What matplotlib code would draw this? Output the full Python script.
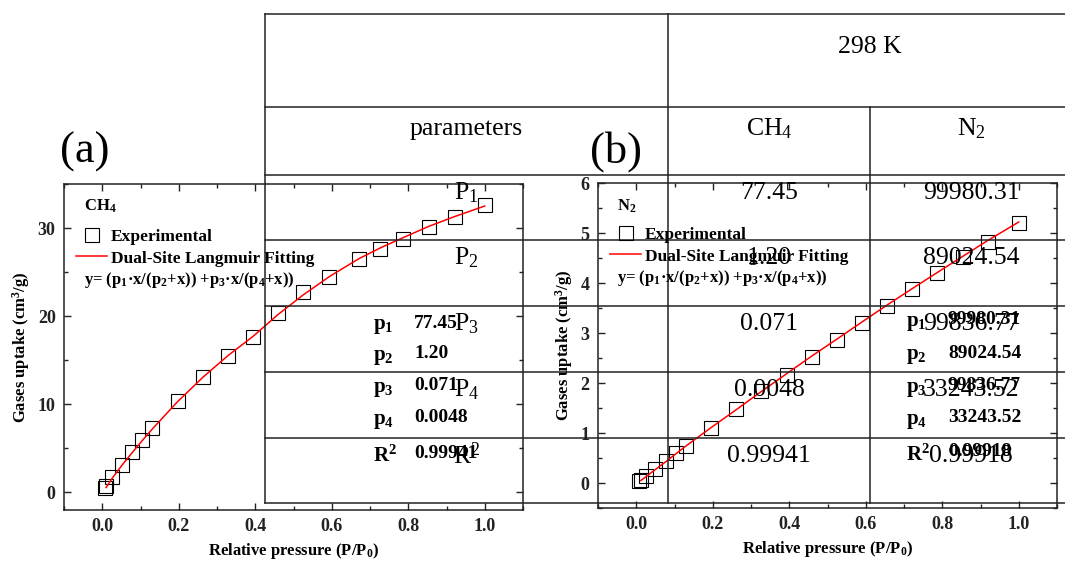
import matplotlib
matplotlib.use("Agg")
import matplotlib.pyplot as plt
from matplotlib.lines import Line2D
from matplotlib.ticker import MultipleLocator

plt.rcParams["font.family"] = ["Liberation Serif", "DejaVu Serif"]
plt.rcParams["mathtext.fontset"] = "custom"
plt.rcParams["mathtext.rm"] = "Liberation Serif"
plt.rcParams["mathtext.it"] = "Liberation Serif:italic"
plt.rcParams["mathtext.bf"] = "Liberation Serif:bold"

# ---- isotherm data (298 K) ----
ch4_x = [0.006, 0.010, 0.026, 0.051, 0.079, 0.105, 0.131, 0.197, 0.264, 0.328, 0.394,
         0.460, 0.525, 0.594, 0.670, 0.727, 0.786, 0.854, 0.921, 1.000]
ch4_y = [0.45, 0.70, 1.70, 3.10, 4.61, 5.94, 7.27, 10.34, 13.07, 15.49, 17.68,
         20.41, 22.76, 24.43, 26.48, 27.65, 28.78, 30.11, 31.28, 32.57]
ch4_fit_x = [0.010, 0.026, 0.051, 0.079, 0.105, 0.131, 0.197, 0.264, 0.328, 0.394,
             0.460, 0.525, 0.594, 0.670, 0.727, 0.786, 0.854, 0.921, 1.000]
ch4_fit_y = [0.55, 1.60, 3.05, 4.55, 5.90, 7.20, 10.30, 13.10, 15.50, 17.70,
             20.20, 22.40, 24.50, 26.50, 27.75, 28.90, 30.20, 31.30, 32.50]

n2_x = [0.007, 0.012, 0.026, 0.050, 0.078, 0.103, 0.130, 0.196, 0.262, 0.327, 0.394,
        0.459, 0.525, 0.590, 0.656, 0.722, 0.787, 0.853, 0.919, 1.000]
n2_y = [0.05, 0.07, 0.15, 0.29, 0.44, 0.60, 0.74, 1.11, 1.48, 1.85, 2.17,
        2.52, 2.87, 3.21, 3.54, 3.88, 4.20, 4.52, 4.83, 5.21]
n2_fit_x = [0.012, 0.026, 0.050, 0.078, 0.103, 0.130, 0.196, 0.262, 0.327, 0.394,
            0.459, 0.525, 0.590, 0.656, 0.722, 0.787, 0.853, 0.919, 1.000]
n2_fit_y = [0.05, 0.13, 0.27, 0.43, 0.58, 0.74, 1.11, 1.47, 1.83, 2.19,
            2.54, 2.88, 3.22, 3.56, 3.89, 4.21, 4.53, 4.85, 5.22]

# ---- fitted Dual-Site Langmuir parameters ----
param_names = [r"$\mathrm{P_1}$", r"$\mathrm{P_2}$", r"$\mathrm{P_3}$", r"$\mathrm{P_4}$", r"$\mathrm{R^2}$"]
param_labels_bold = [r"$\mathbf{p_1}$", r"$\mathbf{p_2}$", r"$\mathbf{p_3}$", r"$\mathbf{p_4}$", r"$\mathbf{R^2}$"]
ch4_params = ["77.45", "1.20", "0.071", "0.0048", "0.99941"]
n2_params = ["99980.31", "89024.54", "99836.77", "33243.52", "0.99918"]
table_title = "298 K"
table_heads = ["parameters", r"$\mathrm{CH_4}$", r"$\mathrm{N_2}$"]

W, H = 1065, 561
fig = plt.figure(figsize=(W / 100, H / 100), dpi=100)
fig.patch.set_facecolor("white")


def fx(px):
    return px / W


def fy(py):
    return 1 - py / H


def make_axes(left, top, right, bottom):
    ax = fig.add_axes([fx(left), fy(bottom), fx(right - left), (bottom - top) / H])
    ax.patch.set_alpha(0)
    for s in ax.spines.values():
        s.set_linewidth(1.1)
        s.set_color("#222222")
    ax.tick_params(which="both", direction="in", top=True, right=True, width=1.0,
                   colors="#222222", labelsize=13, pad=6)
    ax.tick_params(which="major", length=5)
    ax.tick_params(which="minor", length=3)
    return ax


def draw_panel(ax, x, y, fx_, fy_, xlim, ylim, major_y, minor_y):
    exp, = ax.plot(x, y, ls="none", marker="s", ms=9.5, mfc="none", mec="black", mew=0.8,
                   label="Experimental")
    fit, = ax.plot(fx_, fy_, color="red", lw=1.1, label="Dual-Site Langmuir Fitting")
    ax.set_xlim(*xlim)
    ax.set_ylim(*ylim)
    ax.xaxis.set_major_locator(MultipleLocator(0.2))
    ax.xaxis.set_minor_locator(MultipleLocator(0.1))
    ax.yaxis.set_major_locator(MultipleLocator(major_y))
    ax.yaxis.set_minor_locator(MultipleLocator(minor_y))
    ax.xaxis.set_major_formatter(lambda v, _: f"{v:.1f}")
    ax.yaxis.set_major_formatter(lambda v, _: f"{v:g}")
    ax.set_xlabel(r"Relative pressure ($\mathbf{P/P_0}$)", fontsize=12, fontweight="bold", labelpad=4)
    ax.set_ylabel(r"Gases uptake ($\mathbf{cm^3}$/g)", fontsize=12, fontweight="bold", labelpad=4)
    return exp, fit


# ---- panel (a): CH4 ----
ax_a = make_axes(64, 184, 523, 510)
h_a = draw_panel(ax_a, ch4_x, ch4_y, ch4_fit_x, ch4_fit_y, (-0.1, 1.1), (-2, 35), 10, 5)

# ---- panel (b): N2 ----
ax_b = make_axes(598, 183, 1057, 508)
h_b = draw_panel(ax_b, n2_x, n2_y, n2_fit_x, n2_fit_y, (-0.1, 1.1), (-0.5, 6), 1, 0.5)

for ax in (ax_a, ax_b):
    for lab in ax.get_xticklabels() + ax.get_yticklabels():
        lab.set_fontweight("bold")

formula = r"y= ($\mathbf{p_1}$·x/($\mathbf{p_2}$+x)) +$\mathbf{p_3}$·x/($\mathbf{p_4}$+x))"


def panel_text(handles, gas_label, gx, gy, leg_x, leg_y, fxx, fyy, plx, vlx, rows_y, values):
    fig.text(fx(gx), fy(gy), gas_label, fontsize=12, fontweight="bold", va="center", ha="left")
    fig.legend(handles=handles, loc="upper left", bbox_to_anchor=(fx(leg_x), fy(leg_y)),
               frameon=False, prop={"weight": "bold", "size": 12.5},
               handlelength=1.8, handletextpad=0.2, borderpad=0, borderaxespad=0,
               labelspacing=0.3)
    fig.text(fx(fxx), fy(fyy), formula, fontsize=12, fontweight="bold", va="center", ha="left")
    for lab, val, ry in zip(param_labels_bold, values, rows_y):
        fig.text(fx(plx), fy(ry), lab, fontsize=15, fontweight="bold", va="center", ha="left")
        fig.text(fx(vlx), fy(ry - 3), val, fontsize=14, fontweight="bold", va="center", ha="left")


panel_text(h_a, r"$\mathbf{CH_4}$", 84, 206, 76, 229, 84, 280, 373, 414,
           [326, 357, 389, 421, 456], ch4_params)
panel_text(h_b, r"$\mathbf{N_2}$", 617, 206, 610, 227, 617, 278, 906, 948,
           [323, 356, 389, 421, 455], n2_params)

fig.text(fx(60), fy(152), "(a)", fontsize=32, va="center", ha="left")
fig.text(fx(590), fy(152), "(b)", fontsize=32, va="center", ha="left")

# ---- parameter table ----
tbl_left, tbl_right = 265, 1072
col_edges = [265, 668, 870]
row_edges = [14, 107, 175, 240, 306, 372, 438, 503]
line_kw = dict(color="#222222", lw=1.1, transform=fig.transFigure)
for ry in row_edges:
    fig.add_artist(Line2D([fx(tbl_left), fx(tbl_right)], [fy(ry), fy(ry)], **line_kw))
fig.add_artist(Line2D([fx(col_edges[0])] * 2, [fy(row_edges[0]), fy(row_edges[-1])], **line_kw))
fig.add_artist(Line2D([fx(col_edges[1])] * 2, [fy(row_edges[0]), fy(row_edges[-1])], **line_kw))
fig.add_artist(Line2D([fx(col_edges[2])] * 2, [fy(row_edges[1]), fy(row_edges[-1])], **line_kw))

col_centers = [(col_edges[0] + col_edges[1]) / 2, (col_edges[1] + col_edges[2]) / 2,
               (col_edges[2] + tbl_right) / 2]
tkw = dict(fontsize=18.5, ha="center", va="center")
fig.text(fx((col_edges[1] + tbl_right) / 2), fy(row_edges[0] + 33), table_title, **tkw)
for cx, head in zip(col_centers, table_heads):
    fig.text(fx(cx), fy(row_edges[1] + 22), head, **tkw)
for i, (name, v1, v2) in enumerate(zip(param_names, ch4_params, n2_params)):
    ry = row_edges[2 + i] + 18
    fig.text(fx(col_centers[0]), fy(ry), name, **tkw)
    fig.text(fx(col_centers[1]), fy(ry), v1, **tkw)
    fig.text(fx(col_centers[2]), fy(ry), v2, **tkw)

fig.savefig("out.png", dpi=100)
